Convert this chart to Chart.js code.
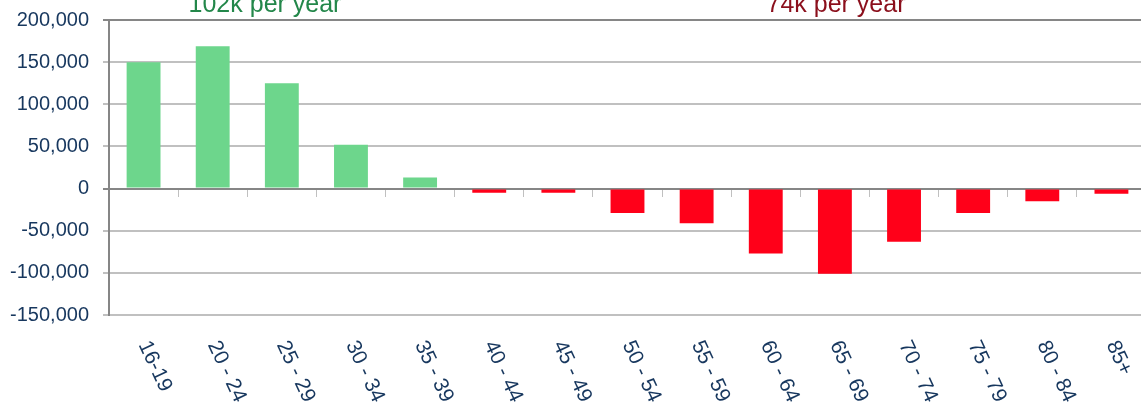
<!DOCTYPE html>
<html>
<head>
<meta charset="utf-8">
<script src="https://cdn.jsdelivr.net/npm/chart.js@4.4.0/dist/chart.umd.min.js"></script>
<style>
  html, body { margin: 0; padding: 0; background: #fff; overflow: hidden; }
  #wrap { width: 1147px; height: 404px; position: relative; }
</style>
</head>
<body>
<div id="wrap"><canvas id="ageChart"></canvas></div>
<script>
// age bands on the x axis
const ageBands = ['16-19', '20 - 24', '25 - 29', '30 - 34', '35 - 39', '40 - 44', '45 - 49',
    '50 - 54', '55 - 59', '60 - 64', '65 - 69', '70 - 74', '75 - 79', '80 - 84', '85+'];
// net change per band
const netChange = [150000, 169000, 125000, 52000, 13000, -5000, -5000,
    -29000, -41000, -77000, -101000, -63000, -29000, -15000, -6000];
const yTicks = [-150000, -100000, -50000, 0, 50000, 100000, 150000, 200000];
const notes = ['102k per year', '74k per year'];

const navy = '#17375e';

// rotated category labels + the two headline notes
const extraText = {
    id: 'extraText',
    afterDraw(chart) {
        const ctx = chart.ctx;
        const x = chart.scales.x;
        ctx.save();
        ctx.font = '21px "Liberation Sans", Arial, sans-serif';
        ctx.fillStyle = navy;
        ctx.textAlign = 'left';
        ctx.textBaseline = 'middle';
        ageBands.forEach((lab, i) => {
            ctx.save();
            ctx.translate(x.getPixelForValue(i), 342);
            ctx.rotate(65 * Math.PI / 180);
            ctx.fillText(lab, 0, 0);
            ctx.restore();
        });
        ctx.font = '25px "Liberation Sans", Arial, sans-serif';
        ctx.textAlign = 'center';
        ctx.textBaseline = 'alphabetic';
        ctx.fillStyle = '#23874a';
        ctx.fillText(notes[0], 265, 12);
        ctx.fillStyle = '#8b0f1c';
        ctx.fillText(notes[1], 836, 12);
        ctx.restore();
    }
};

new Chart(document.getElementById('ageChart'), {
    type: 'bar',
    data: {
        labels: ageBands,
        datasets: [{
            data: netChange,
            backgroundColor: netChange.map(v => v >= 0 ? '#6dd68c' : '#ff0019'),
            categoryPercentage: 1,
            barPercentage: 0.49
        }]
    },
    options: {
        responsive: true,
        maintainAspectRatio: false,
        animation: false,
        layout: { padding: { top: 20, right: 1, bottom: 89, left: 0 } },
        plugins: { legend: { display: false }, tooltip: { enabled: false } },
        scales: {
            x: {
                position: { y: 0 },
                afterFit: s => { s.height = 0; s.paddingLeft = 0; s.paddingRight = 0; },
                ticks: { display: false },
                grid: { drawOnChartArea: false, drawTicks: true, tickLength: 7, color: '#c0c0c0', offset: true },
                border: { display: true, color: '#868686', width: 2 }
            },
            y: {
                min: -150000,
                max: 200000,
                afterBuildTicks: s => { s.ticks = yTicks.map(v => ({ value: v })); },
                afterFit: s => { s.width = 109; s.paddingTop = 0; s.paddingBottom = 0; },
                ticks: {
                    padding: 14,
                    color: navy,
                    font: { family: '"Liberation Sans", Arial, sans-serif', size: 20 },
                    callback: v => v.toLocaleString('en-US')
                },
                grid: {
                    tickLength: 6,
                    color: c => (c.tick.value === 200000 || c.tick.value === 0) ? '#868686' : '#c0c0c0',
                    lineWidth: 2
                },
                border: { display: true, color: '#868686', width: 2 }
            }
        }
    },
    plugins: [extraText]
});
</script>
</body>
</html>
